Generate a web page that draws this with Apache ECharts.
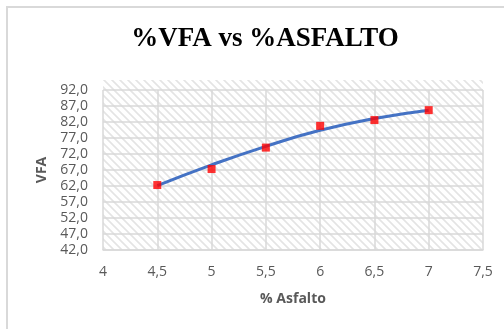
<!DOCTYPE html>
<html>
<head>
<meta charset="utf-8">
<script src="https://cdn.jsdelivr.net/npm/echarts@6/dist/echarts.min.js"></script>
<style>
  html, body { margin: 0; padding: 0; background: #ffffff; }
  #chart { width: 504px; height: 329px; }
</style>
</head>
<body>
<div id="chart"></div>
<script>
// Asphalt content (%) and measured voids filled with asphalt (%)
const asfalto = [4.5, 5, 5.5, 6, 6.5, 7];
const vfa = [62.3, 67.3, 74.0, 80.8, 82.6, 85.7];
// Polynomial trend line values at the same asphalt contents
const tendencia = [62.1, 68.6, 74.4, 79.4, 83.1, 85.7];

// Axis ranges and tick spacing
const xMin = 4, xMax = 7.5, xStep = 0.5;
const yMin = 42, yMax = 92, yStep = 5;

const comma = s => String(s).replace('.', ',');

// Diagonal hatch tile for the plot background
function hatchTile() {
  const c = document.createElement('canvas');
  c.width = 8; c.height = 8;
  const g = c.getContext('2d');
  g.fillStyle = '#ffffff';
  g.fillRect(0, 0, 8, 8);
  g.strokeStyle = '#e4e4e4';
  g.lineWidth = 1.6;
  g.beginPath();
  g.moveTo(-2, -2); g.lineTo(10, 10);
  g.moveTo(-10, -2); g.lineTo(2, 10);
  g.moveTo(6, -2); g.lineTo(18, 10);
  g.stroke();
  return c;
}

const chart = echarts.init(document.getElementById('chart'), null, { renderer: 'canvas' });

chart.setOption({
  animation: false,
  backgroundColor: '#ffffff',
  graphic: [
    {
      // chart frame
      type: 'rect',
      shape: { x: 7, y: 7, width: 520, height: 340 },
      style: { fill: 'none', stroke: '#d9d9d9', lineWidth: 2 },
      silent: true, z: -1
    },
    {
      // hatched plot area, reaching a little above the top gridline
      type: 'rect',
      shape: { x: 103, y: 80, width: 380, height: 170 },
      style: { fill: { image: hatchTile(), repeat: 'repeat' } },
      silent: true, z: -1
    }
  ],
  title: {
    text: '%VFA vs %ASFALTO',
    left: 260, top: 21, textAlign: 'center',
    textStyle: { fontFamily: 'Liberation Serif', fontWeight: 'bold', fontSize: 27, color: '#000000' }
  },
  grid: {
    left: 103, right: 21, top: 90, bottom: 79,
    show: false
  },
  xAxis: {
    type: 'value', min: xMin, max: xMax, interval: xStep,
    name: '% Asfalto', nameLocation: 'middle', nameGap: 42,
    nameTextStyle: { fontFamily: 'Open Sans', fontWeight: 'bold', fontSize: 14, color: '#595959' },
    axisLine: { show: true, lineStyle: { color: '#d9d9d9', width: 1.5 } },
    axisTick: { show: false },
    axisLabel: { margin: 15, fontFamily: 'Open Sans', fontSize: 14, color: '#595959', formatter: v => comma(v) },
    splitLine: { show: true, lineStyle: { color: '#d9d9d9', width: 1.5 } }
  },
  yAxis: {
    type: 'value', min: yMin, max: yMax, interval: yStep,
    name: 'VFA', nameLocation: 'middle', nameGap: 53, nameRotate: 90,
    nameTextStyle: { fontFamily: 'Open Sans', fontWeight: 'bold', fontSize: 14, color: '#595959' },
    axisLine: { show: false },
    axisTick: { show: false },
    axisLabel: {
      margin: 15, fontFamily: 'Open Sans', fontSize: 14, color: '#595959',
      formatter: v => comma(v.toFixed(1))
    },
    splitLine: { show: true, lineStyle: { color: '#d9d9d9', width: 1.5 } }
  },
  series: [
    {
      name: 'Tendencia', type: 'line', smooth: true,
      data: asfalto.map((x, i) => [x, tendencia[i]]),
      showSymbol: false,
      lineStyle: { color: '#4472c4', width: 3 },
      z: 2
    },
    {
      name: 'VFA', type: 'scatter',
      data: asfalto.map((x, i) => [x, vfa[i]]),
      symbol: 'rect', symbolSize: 8,
      itemStyle: { color: '#ff0000' },
      z: 3
    }
  ]
});
</script>
</body>
</html>
